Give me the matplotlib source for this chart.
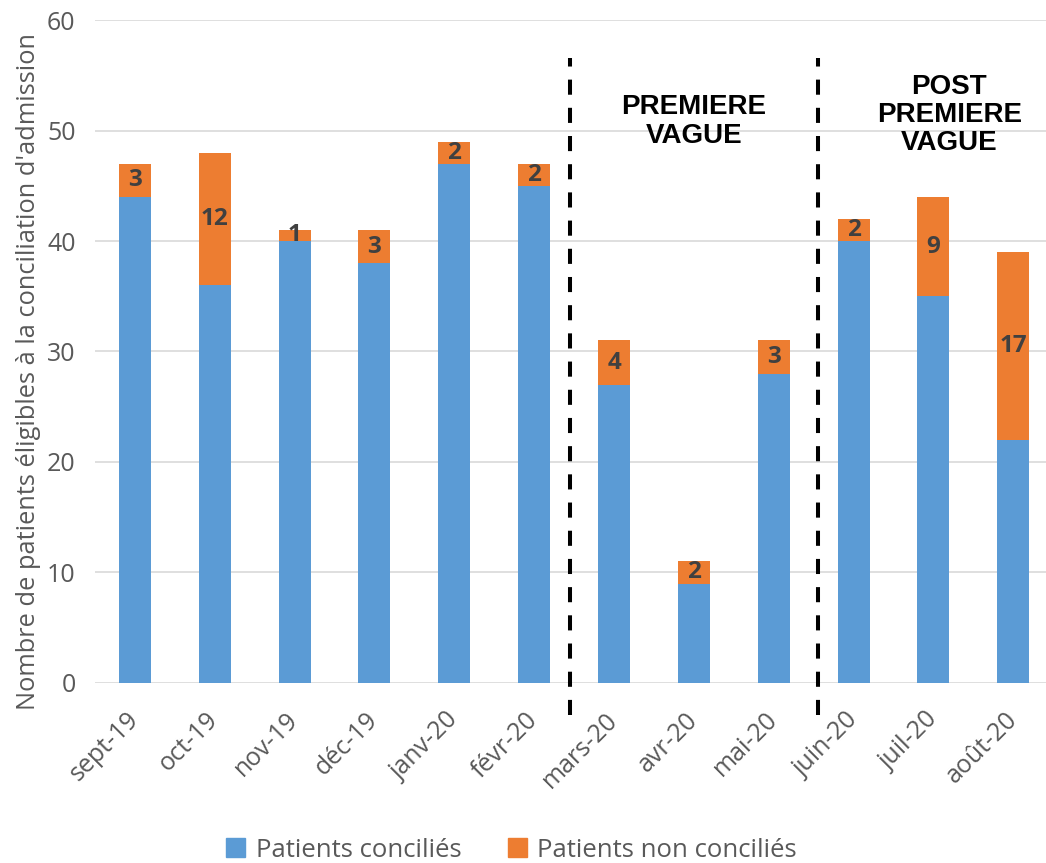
import matplotlib.pyplot as plt
from matplotlib.patches import Patch

mois = ['sept-19', 'oct-19', 'nov-19', 'déc-19', 'janv-20', 'févr-20',
        'mars-20', 'avr-20', 'mai-20', 'juin-20', 'juil-20', 'août-20']
concilies = [44, 36, 40, 38, 47, 45, 27, 9, 28, 40, 35, 22]
non_concilies = [3, 12, 1, 3, 2, 2, 4, 2, 3, 2, 9, 17]

bleu = '#5B9BD5'
orange = '#ED7D31'
gris = '#595959'

plt.rcParams['font.family'] = ['Open Sans', 'DejaVu Sans']

fig = plt.figure(figsize=(10.46, 8.63), dpi=100)
ax = fig.add_axes([0.0908, 0.2086, 0.9092, 0.7682])

x = range(len(mois))
ax.bar(x, concilies, width=0.4, color=bleu, zorder=2)
ax.bar(x, non_concilies, width=0.4, bottom=concilies, color=orange, zorder=2)

for i in x:
    ax.text(i, concilies[i] + non_concilies[i] / 2, str(non_concilies[i]),
            ha='center', va='center', fontsize=17.5, fontweight='bold',
            color='#404040', zorder=3)

ax.set_ylim(0, 60)
ax.set_xlim(-0.5, 11.41)
ax.set_yticks(range(0, 61, 10))
ax.set_xticks(list(x))
ax.set_xticklabels(mois, rotation=45, ha='right', va='center',
                   rotation_mode='anchor')
ax.tick_params(axis='both', length=0, labelsize=18, labelcolor=gris)
ax.tick_params(axis='y', pad=14)
ax.tick_params(axis='x', pad=24)
ax.grid(axis='y', color='#D9D9D9', linewidth=1.2, zorder=0)
for s in ax.spines.values():
    s.set_visible(False)

ax.set_ylabel("Nombre de patients éligibles à la conciliation d'admission",
              fontsize=18.3, color=gris)
ax.yaxis.set_label_coords(-0.057, 0.47)

# separations des periodes
for xv in [5.45, 8.55]:
    ax.plot([xv, xv], [-2.9, 56.6], color='black', linestyle=(0, (3.75, 3.25)),
            linewidth=2.9, clip_on=False, zorder=4)

ax.text(7.0, 50.8, 'PREMIERE\nVAGUE', ha='center', va='center',
        fontsize=20, fontweight='bold', family='Liberation Sans', linespacing=1.12)
ax.text(10.2, 51.4, 'POST\nPREMIERE\nVAGUE', ha='center', va='center',
        fontsize=20, fontweight='bold', family='Liberation Sans', linespacing=1.12)

handles = [Patch(color=bleu, label='Patients conciliés'),
           Patch(color=orange, label='Patients non conciliés')]
fig.legend(handles=handles, loc='center', bbox_to_anchor=(0.489, 0.015),
           ncol=2, frameon=False, fontsize=18.5, labelcolor=gris,
           handlelength=0.75, handleheight=0.75, handletextpad=0.4,
           columnspacing=1.8)

fig.savefig('out.png', dpi=100)
